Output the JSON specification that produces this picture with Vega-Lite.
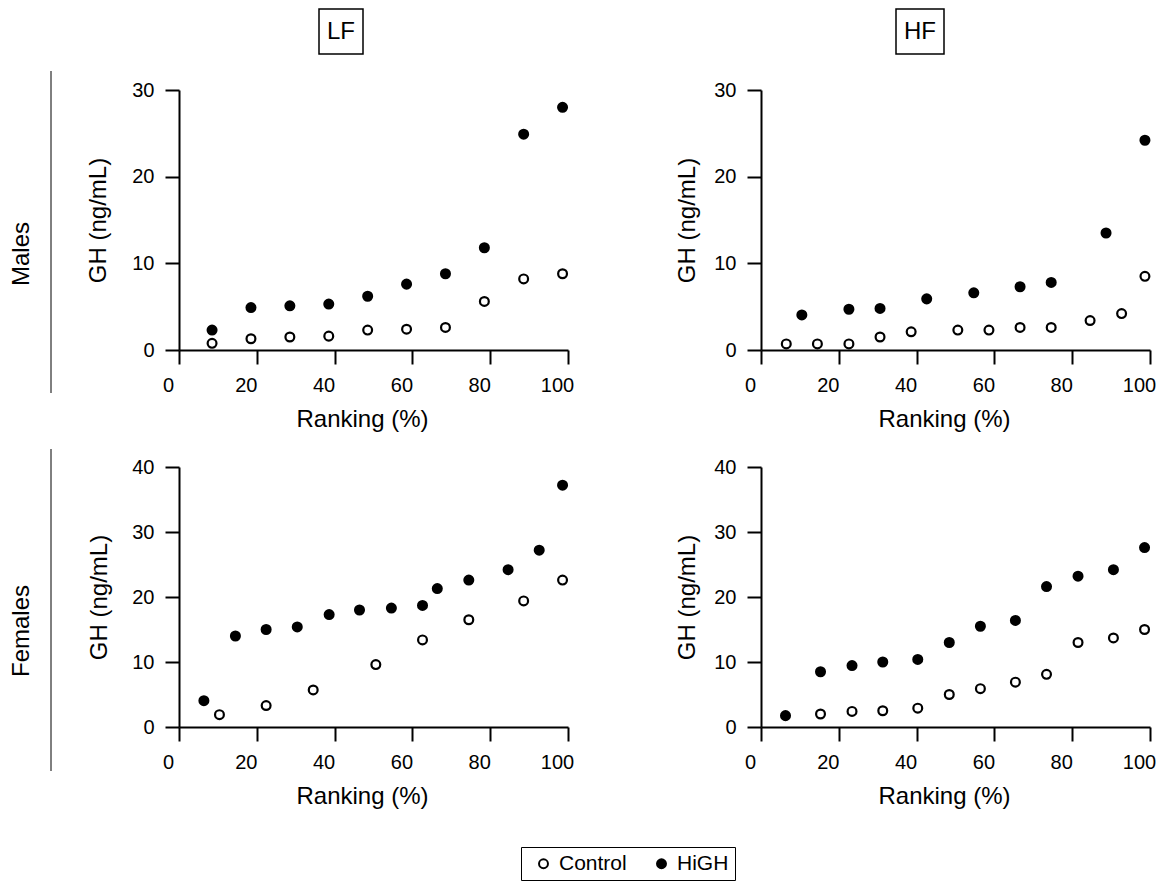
{
  "$schema": "https://vega.github.io/schema/vega-lite/v6.json",
  "padding": {"left": 5, "top": 8, "right": 5, "bottom": 5},
  "background": "white",
  "config": {
    "view": {"stroke": null},
    "font": "Liberation Sans",
    "axis": {
      "domainColor": "black", "domainWidth": 2, "tickColor": "black", "tickWidth": 2, "tickSize": 14,
      "labelFontSize": 20, "labelColor": "black", "labelFont": "Liberation Sans",
      "titleFontSize": 24, "titleFontWeight": "normal", "titleColor": "black", "titleFont": "Liberation Sans",
      "grid": false, "labelFlush": false, "labelOverlap": false
    },
    "axisX": {"labelPadding": 11, "labelOffset": -11, "titlePadding": 12, "titleX": 183},
    "axisY": {"labelPadding": 11},
    "legend": {"title": null, "orient": "none", "legendX": 516, "legendY": 838, "direction": "horizontal", "strokeColor": "black", "padding": 6, "labelFontSize": 21, "labelColor": "black", "symbolSize": 80, "symbolStrokeWidth": 2, "symbolStrokeColor": "black", "columnPadding": 18, "labelOffset": 5, "symbolOffset": 6},
    "text": {"font": "Liberation Sans", "color": "black"}
  },
  "data": {"values": [
    {"sex":"Males","diet":"LF","group":"Control","rank":8.5,"gh":0.77},
    {"sex":"Males","diet":"LF","group":"Control","rank":18.5,"gh":1.3},
    {"sex":"Males","diet":"LF","group":"Control","rank":28.5,"gh":1.5},
    {"sex":"Males","diet":"LF","group":"Control","rank":38.5,"gh":1.6},
    {"sex":"Males","diet":"LF","group":"Control","rank":48.5,"gh":2.3},
    {"sex":"Males","diet":"LF","group":"Control","rank":58.5,"gh":2.4},
    {"sex":"Males","diet":"LF","group":"Control","rank":68.5,"gh":2.6},
    {"sex":"Males","diet":"LF","group":"Control","rank":78.5,"gh":5.6},
    {"sex":"Males","diet":"LF","group":"Control","rank":88.6,"gh":8.2},
    {"sex":"Males","diet":"LF","group":"Control","rank":98.6,"gh":8.8},
    {"sex":"Males","diet":"LF","group":"HiGH","rank":8.5,"gh":2.3},
    {"sex":"Males","diet":"LF","group":"HiGH","rank":18.5,"gh":4.9},
    {"sex":"Males","diet":"LF","group":"HiGH","rank":28.5,"gh":5.1},
    {"sex":"Males","diet":"LF","group":"HiGH","rank":38.5,"gh":5.3},
    {"sex":"Males","diet":"LF","group":"HiGH","rank":48.5,"gh":6.2},
    {"sex":"Males","diet":"LF","group":"HiGH","rank":58.5,"gh":7.6},
    {"sex":"Males","diet":"LF","group":"HiGH","rank":68.5,"gh":8.8},
    {"sex":"Males","diet":"LF","group":"HiGH","rank":78.5,"gh":11.8},
    {"sex":"Males","diet":"LF","group":"HiGH","rank":88.6,"gh":24.9},
    {"sex":"Males","diet":"LF","group":"HiGH","rank":98.6,"gh":28.0},
    {"sex":"Males","diet":"HF","group":"Control","rank":6.5,"gh":0.7},
    {"sex":"Males","diet":"HF","group":"Control","rank":14.5,"gh":0.7},
    {"sex":"Males","diet":"HF","group":"Control","rank":22.6,"gh":0.7},
    {"sex":"Males","diet":"HF","group":"Control","rank":30.6,"gh":1.5},
    {"sex":"Males","diet":"HF","group":"Control","rank":38.6,"gh":2.1},
    {"sex":"Males","diet":"HF","group":"Control","rank":50.6,"gh":2.3},
    {"sex":"Males","diet":"HF","group":"Control","rank":58.6,"gh":2.3},
    {"sex":"Males","diet":"HF","group":"Control","rank":66.6,"gh":2.6},
    {"sex":"Males","diet":"HF","group":"Control","rank":74.6,"gh":2.6},
    {"sex":"Males","diet":"HF","group":"Control","rank":84.6,"gh":3.4},
    {"sex":"Males","diet":"HF","group":"Control","rank":92.7,"gh":4.2},
    {"sex":"Males","diet":"HF","group":"Control","rank":98.7,"gh":8.5},
    {"sex":"Males","diet":"HF","group":"HiGH","rank":10.5,"gh":4.05},
    {"sex":"Males","diet":"HF","group":"HiGH","rank":22.6,"gh":4.7},
    {"sex":"Males","diet":"HF","group":"HiGH","rank":30.6,"gh":4.8},
    {"sex":"Males","diet":"HF","group":"HiGH","rank":42.6,"gh":5.9},
    {"sex":"Males","diet":"HF","group":"HiGH","rank":54.7,"gh":6.6},
    {"sex":"Males","diet":"HF","group":"HiGH","rank":66.6,"gh":7.3},
    {"sex":"Males","diet":"HF","group":"HiGH","rank":74.6,"gh":7.8},
    {"sex":"Males","diet":"HF","group":"HiGH","rank":88.7,"gh":13.5},
    {"sex":"Males","diet":"HF","group":"HiGH","rank":98.7,"gh":24.2},
    {"sex":"Females","diet":"LF","group":"Control","rank":10.4,"gh":1.9},
    {"sex":"Females","diet":"LF","group":"Control","rank":22.4,"gh":3.3},
    {"sex":"Females","diet":"LF","group":"Control","rank":34.5,"gh":5.7},
    {"sex":"Females","diet":"LF","group":"Control","rank":50.6,"gh":9.6},
    {"sex":"Females","diet":"LF","group":"Control","rank":62.6,"gh":13.4},
    {"sex":"Females","diet":"LF","group":"Control","rank":74.5,"gh":16.5},
    {"sex":"Females","diet":"LF","group":"Control","rank":88.6,"gh":19.4},
    {"sex":"Females","diet":"LF","group":"Control","rank":98.6,"gh":22.6},
    {"sex":"Females","diet":"LF","group":"HiGH","rank":6.4,"gh":4.05},
    {"sex":"Females","diet":"LF","group":"HiGH","rank":14.5,"gh":14.0},
    {"sex":"Females","diet":"LF","group":"HiGH","rank":22.4,"gh":15.0},
    {"sex":"Females","diet":"LF","group":"HiGH","rank":30.4,"gh":15.4},
    {"sex":"Females","diet":"LF","group":"HiGH","rank":38.6,"gh":17.3},
    {"sex":"Females","diet":"LF","group":"HiGH","rank":46.4,"gh":18.0},
    {"sex":"Females","diet":"LF","group":"HiGH","rank":54.6,"gh":18.3},
    {"sex":"Females","diet":"LF","group":"HiGH","rank":62.6,"gh":18.7},
    {"sex":"Females","diet":"LF","group":"HiGH","rank":66.4,"gh":21.3},
    {"sex":"Females","diet":"LF","group":"HiGH","rank":74.5,"gh":22.6},
    {"sex":"Females","diet":"LF","group":"HiGH","rank":84.6,"gh":24.2},
    {"sex":"Females","diet":"LF","group":"HiGH","rank":92.6,"gh":27.2},
    {"sex":"Females","diet":"LF","group":"HiGH","rank":98.6,"gh":37.2},
    {"sex":"Females","diet":"HF","group":"Control","rank":15.3,"gh":2.0},
    {"sex":"Females","diet":"HF","group":"Control","rank":23.4,"gh":2.4},
    {"sex":"Females","diet":"HF","group":"Control","rank":31.3,"gh":2.5},
    {"sex":"Females","diet":"HF","group":"Control","rank":40.3,"gh":2.9},
    {"sex":"Females","diet":"HF","group":"Control","rank":48.4,"gh":5.0},
    {"sex":"Females","diet":"HF","group":"Control","rank":56.4,"gh":5.9},
    {"sex":"Females","diet":"HF","group":"Control","rank":65.4,"gh":6.9},
    {"sex":"Females","diet":"HF","group":"Control","rank":73.4,"gh":8.1},
    {"sex":"Females","diet":"HF","group":"Control","rank":81.5,"gh":13.0},
    {"sex":"Females","diet":"HF","group":"Control","rank":90.6,"gh":13.7},
    {"sex":"Females","diet":"HF","group":"Control","rank":98.6,"gh":15.0},
    {"sex":"Females","diet":"HF","group":"HiGH","rank":6.3,"gh":1.75},
    {"sex":"Females","diet":"HF","group":"HiGH","rank":15.3,"gh":8.5},
    {"sex":"Females","diet":"HF","group":"HiGH","rank":23.4,"gh":9.45},
    {"sex":"Females","diet":"HF","group":"HiGH","rank":31.3,"gh":10.0},
    {"sex":"Females","diet":"HF","group":"HiGH","rank":40.3,"gh":10.4},
    {"sex":"Females","diet":"HF","group":"HiGH","rank":48.4,"gh":13.0},
    {"sex":"Females","diet":"HF","group":"HiGH","rank":56.4,"gh":15.5},
    {"sex":"Females","diet":"HF","group":"HiGH","rank":65.4,"gh":16.4},
    {"sex":"Females","diet":"HF","group":"HiGH","rank":73.4,"gh":21.6},
    {"sex":"Females","diet":"HF","group":"HiGH","rank":81.5,"gh":23.2},
    {"sex":"Females","diet":"HF","group":"HiGH","rank":90.6,"gh":24.2},
    {"sex":"Females","diet":"HF","group":"HiGH","rank":98.6,"gh":27.6}
  ]},
  "spacing": 34,
  "hconcat": [
    {
      "bounds": "flush",
      "spacing": 56,
      "vconcat": [
        {"width": 46, "height": 6, "data": {"values": []}, "mark": "point", "encoding": {}},
        {
          "width": 46, "height": 322,
          "data": {"values": [{"label": "Males"}]},
          "layer": [
            {"mark": {"type": "rule", "color": "black", "strokeWidth": 1},
             "encoding": {"x": {"datum": 1, "type": "quantitative", "scale": {"domain": [0, 1]}, "axis": null}}},
            {"mark": {"type": "text", "angle": 270, "fontSize": 24, "dx": -22, "dy": -6},
             "encoding": {"text": {"field": "label"}}}
          ]
        },
        {
          "width": 46, "height": 322,
          "data": {"values": [{"label": "Females"}]},
          "layer": [
            {"mark": {"type": "rule", "color": "black", "strokeWidth": 1},
             "encoding": {"x": {"datum": 1, "type": "quantitative", "scale": {"domain": [0, 1]}, "axis": null}}},
            {"mark": {"type": "text", "angle": 270, "fontSize": 24, "dx": -21, "dy": -6},
             "encoding": {"text": {"field": "label"}}}
          ]
        }
      ]
    },
    {
      "spacing": 25,
      "vconcat": [
        {
          "bounds": "flush",
          "spacing": 0,
          "hconcat": [
            {"width": 140, "height": 45, "data": {"values": []}, "mark": "point", "encoding": {}},
            {
              "width": 44, "height": 45,
              "view": {"stroke": "black", "strokeWidth": 1.5},
              "data": {"values": [{"diet": "LF"}]},
              "mark": {"type": "text", "fontSize": 24},
              "encoding": {"text": {"field": "diet"}}
            },
            {"width": 533, "height": 45, "data": {"values": []}, "mark": "point", "encoding": {}},
            {
              "width": 48, "height": 45,
              "view": {"stroke": "black", "strokeWidth": 1.5},
              "data": {"values": [{"diet": "HF"}]},
              "mark": {"type": "text", "fontSize": 24},
              "encoding": {"text": {"field": "diet"}}
            }
          ]
        },
        {
          "bounds": "flush",
          "columns": 2,
          "spacing": {"row": 117, "column": 193},
          "concat": [
            {
              "width": 389, "height": 260,
              "transform": [{"filter": "datum.sex == 'Males' && datum.diet == 'LF'"}],
              "mark": {"type": "point", "shape": "circle", "filled": true, "stroke": "black", "strokeWidth": 2.2, "size": 78, "opacity": 1},
              "encoding": {
                "x": {"field": "rank", "type": "quantitative", "scale": {"domain": [0, 100], "nice": false}, "axis": {"title": "Ranking (%)", "values": [0, 20, 40, 60, 80, 100]}},
                "y": {"field": "gh", "type": "quantitative", "scale": {"domain": [0, 30], "nice": false}, "axis": {"title": "GH (ng/mL)", "values": [0, 10, 20, 30], "titlePadding": 21}},
                "fill": {"field": "group", "type": "nominal", "scale": {"domain": ["Control", "HiGH"], "range": ["white", "black"]}}
              }
            },
            {
              "width": 389, "height": 260,
              "transform": [{"filter": "datum.sex == 'Males' && datum.diet == 'HF'"}],
              "mark": {"type": "point", "shape": "circle", "filled": true, "stroke": "black", "strokeWidth": 2.2, "size": 78, "opacity": 1},
              "encoding": {
                "x": {"field": "rank", "type": "quantitative", "scale": {"domain": [0, 100], "nice": false}, "axis": {"title": "Ranking (%)", "values": [0, 20, 40, 60, 80, 100]}},
                "y": {"field": "gh", "type": "quantitative", "scale": {"domain": [0, 30], "nice": false}, "axis": {"title": "GH (ng/mL)", "values": [0, 10, 20, 30], "titlePadding": 14}},
                "fill": {"field": "group", "type": "nominal", "scale": {"domain": ["Control", "HiGH"], "range": ["white", "black"]}}
              }
            },
            {
              "width": 389, "height": 260,
              "transform": [{"filter": "datum.sex == 'Females' && datum.diet == 'LF'"}],
              "mark": {"type": "point", "shape": "circle", "filled": true, "stroke": "black", "strokeWidth": 2.2, "size": 78, "opacity": 1},
              "encoding": {
                "x": {"field": "rank", "type": "quantitative", "scale": {"domain": [0, 100], "nice": false}, "axis": {"title": "Ranking (%)", "values": [0, 20, 40, 60, 80, 100]}},
                "y": {"field": "gh", "type": "quantitative", "scale": {"domain": [0, 40], "nice": false}, "axis": {"title": "GH (ng/mL)", "values": [0, 10, 20, 30, 40], "titlePadding": 20}},
                "fill": {"field": "group", "type": "nominal", "scale": {"domain": ["Control", "HiGH"], "range": ["white", "black"]}}
              }
            },
            {
              "width": 389, "height": 260,
              "transform": [{"filter": "datum.sex == 'Females' && datum.diet == 'HF'"}],
              "mark": {"type": "point", "shape": "circle", "filled": true, "stroke": "black", "strokeWidth": 2.2, "size": 78, "opacity": 1},
              "encoding": {
                "x": {"field": "rank", "type": "quantitative", "scale": {"domain": [0, 100], "nice": false}, "axis": {"title": "Ranking (%)", "values": [0, 20, 40, 60, 80, 100]}},
                "y": {"field": "gh", "type": "quantitative", "scale": {"domain": [0, 40], "nice": false}, "axis": {"title": "GH (ng/mL)", "values": [0, 10, 20, 30, 40], "titlePadding": 14}},
                "fill": {"field": "group", "type": "nominal", "scale": {"domain": ["Control", "HiGH"], "range": ["white", "black"]}}
              }
            }
          ]
        }
      ]
    }
  ]
}
